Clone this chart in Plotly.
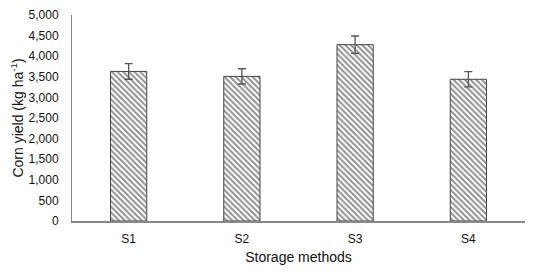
import plotly.graph_objects as go

categories = ["S1", "S2", "S3", "S4"]
yield_values = [3630, 3510, 4280, 3440]
errors = [190, 185, 210, 185]
y_ticks = [0, 500, 1000, 1500, 2000, 2500, 3000, 3500, 4000, 4500, 5000]
y_tick_labels = ["0", "500", "1,000", "1,500", "2,000", "2,500", "3,000", "3,500", "4,000", "4,500", "5,000"]

FONT = "Liberation Sans Narrow, Arial Narrow, Liberation Sans, Arial, sans-serif"

fig = go.Figure(go.Bar(
    x=categories,
    y=yield_values,
    width=0.32,
    marker=dict(
        color="white",
        line=dict(color="#444444", width=1),
        pattern=dict(shape="\\", fgcolor="#222222", bgcolor="white", size=4, solidity=0.5),
    ),
    error_y=dict(type="data", array=errors, visible=True, color="#555555", thickness=1.3, width=4),
))

fig.update_layout(
    width=543, height=263,
    margin=dict(l=64, r=26, t=7, b=50, autoexpand=False),
    plot_bgcolor="white", paper_bgcolor="white",
    font=dict(family=FONT, size=12, color="#111111"),
    showlegend=False,
    xaxis=dict(
        showline=True, linecolor="#888888", linewidth=1.5,
        showgrid=False, ticks="", tickfont=dict(size=12), ticklabelstandoff=6,
        title=dict(text="Storage methods", font=dict(size=14), standoff=7),
    ),
    yaxis=dict(
        range=[0, 5000], tickvals=y_ticks, ticktext=y_tick_labels,
        showline=True, linecolor="#888888", linewidth=1,
        showgrid=False, ticks="", tickfont=dict(size=12), zeroline=False,
        ticklabelstandoff=10,
        title=dict(text="Corn yield (kg ha<sup>-1</sup>)", font=dict(size=14), standoff=6),
    ),
)

fig.write_html("out.html")
